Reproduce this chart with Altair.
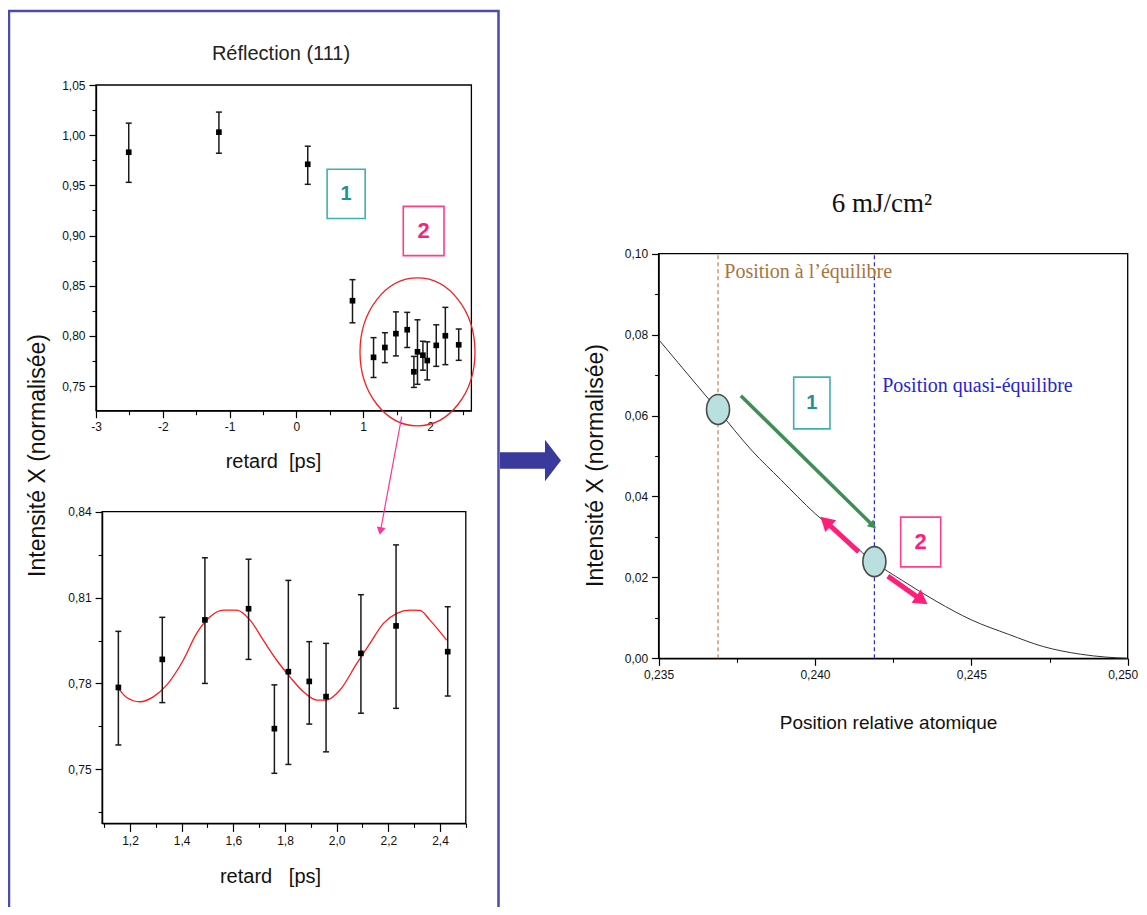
import math
import altair as alt
import pandas as pd

# ---------------- values ----------------
# top-left panel : early delays
early_delay = [-2.51, -1.16, 0.17, 0.84]
early_int = [0.983, 1.003, 0.971, 0.835]
early_lo = [0.953, 0.982, 0.951, 0.813]
early_hi = [1.012, 1.023, 0.989, 0.856]

# oscillation region (both left panels)
osc_delay = [1.155, 1.325, 1.490, 1.659, 1.759, 1.813, 1.894, 1.959, 2.094, 2.230, 2.430]
osc_int = [0.7786, 0.7884, 0.8022, 0.8061, 0.7642, 0.7841, 0.7807, 0.7754, 0.7905, 0.8001, 0.7911]
osc_lo = [0.7585, 0.7733, 0.7800, 0.7884, 0.7486, 0.7517, 0.7658, 0.7561, 0.7696, 0.7713, 0.7756]
osc_hi = [0.7982, 0.8031, 0.8239, 0.8234, 0.7795, 0.8160, 0.7946, 0.7940, 0.8110, 0.8284, 0.8068]

# red fitted curve (points read along it)
fit_delay = [1.158, 1.187, 1.239, 1.290, 1.342, 1.406, 1.458, 1.510, 1.561, 1.613, 1.665, 1.716, 1.768,
             1.819, 1.871, 1.923, 1.961, 2.013, 2.078, 2.129, 2.181, 2.233, 2.284, 2.323, 2.361, 2.426]
fit_int = [0.7779, 0.7751, 0.7736, 0.7753, 0.7794, 0.7881, 0.7975, 0.8033, 0.8056, 0.8056, 0.8021, 0.7951, 0.7881,
           0.7823, 0.7771, 0.7742, 0.7742, 0.7777, 0.7870, 0.7940, 0.8010, 0.8045, 0.8056, 0.8055, 0.8021, 0.7951]

# right panel : intensity vs atomic relative position
atom_pos = [0.2350, 0.2359, 0.23688, 0.2380, 0.2389, 0.2400, 0.24117, 0.24187, 0.2428, 0.2439, 0.2450,
            0.2462, 0.2473, 0.2485, 0.2493, 0.2500]
atom_int = [0.0788, 0.0705, 0.0615, 0.0512, 0.0442, 0.0358, 0.0284, 0.0239, 0.0192, 0.0140, 0.0095,
            0.0059, 0.0029, 0.0010, 0.0003, 0.0000]
eq_pos = 0.2369
quasi_pos = 0.2419
state_pos = [0.2369, 0.2419]
state_int = [0.0615, 0.0239]

# arrows (tail -> tip) in data units of the right panel
arrow_name = ["green", "pink_up", "pink_down"]
arrow_x0 = [0.23763, 0.24140, 0.24233]
arrow_y0 = [0.0649, 0.0263, 0.0203]
arrow_x1 = [0.24192, 0.24023, 0.24354]
arrow_y1 = [0.0323, 0.0346, 0.0137]

# numbered boxes
boxA_label = ["1", "2"]
boxA_x0 = [0.46, 1.60]
boxA_x1 = [1.03, 2.21]
boxA_y0 = [0.917, 0.880]
boxA_y1 = [0.966, 0.929]
boxC_label = ["1", "2"]
boxC_x0 = [0.23932, 0.24274]
boxC_x1 = [0.24048, 0.24402]
boxC_y0 = [0.0567, 0.0226]
boxC_y1 = [0.0695, 0.0349]

zoom_center = [1.813, 0.784]

# axes
A_xdom, A_ydom = [-3, 2.62], [0.7254, 1.05]
A_xticks, A_xminor = [-3, -2, -1, 0, 1, 2], [-2.5, -1.5, -0.5, 0.5, 1.5, 2.5]
A_yticks = [0.75, 0.80, 0.85, 0.90, 0.95, 1.00, 1.05]
A_yminor = [0.775, 0.825, 0.875, 0.925, 0.975, 1.025]
B_xdom, B_ydom = [1.092, 2.5], [0.7311, 0.84]
B_xticks = [1.2, 1.4, 1.6, 1.8, 2.0, 2.2, 2.4]
B_xminor = [1.1, 1.3, 1.5, 1.7, 1.9, 2.1, 2.3, 2.5]
B_yticks = [0.75, 0.78, 0.81, 0.84]
B_yminor = [0.735, 0.765, 0.795, 0.825]
C_xdom, C_ydom = [0.235, 0.250], [0.0, 0.10]
C_xticks = [0.235, 0.240, 0.245, 0.250]
C_xminor = [0.2375, 0.2425, 0.2475]
C_yticks = [0.00, 0.02, 0.04, 0.06, 0.08, 0.10]
C_yminor = [0.01, 0.03, 0.05, 0.07, 0.09]

# ---------------- layout (canvas pixels) ----------------
W, H = 1131, 899
FONT = "Liberation Sans"
SERIF = "Liberation Serif"
A_xr, A_yr = [88, 463.4], [402.7, 77]
B_xr, B_yr = [94.1, 457.8], [815.4, 503.7]
C_xr, C_yr = [650.6, 1119.7], [650.3, 245.7]


def scale(dom, rng):
    return alt.Scale(domain=dom, range=rng, zero=False, nice=False)


A_xs, A_ys = scale(A_xdom, A_xr), scale(A_ydom, A_yr)
B_xs, B_ys = scale(B_xdom, B_xr), scale(B_ydom, B_yr)
C_xs, C_ys = scale(C_xdom, C_xr), scale(C_ydom, C_yr)


def major_axis(orient, offset, values, fmt, tick=7, **kw):
    return alt.Axis(orient=orient, offset=offset, values=values, format=fmt,
                    labelExpr="replace(replace(datum.label, '.', ','), '\u2212', '-')",
                    labelFont=FONT, labelFontSize=12,
                    labelColor="#111", labelPadding=4, labelFlush=False, labelOverlap=False,
                    tickSize=tick, tickColor="black", tickWidth=1.2, domainColor="black",
                    domainWidth=1.3, grid=False, titleFont=FONT, titleFontWeight="normal",
                    titleColor="#111", titleAlign="center", titleBaseline="middle", **kw)


def minor_axis(orient, offset, values):
    return alt.Axis(orient=orient, offset=offset, values=values, labels=False, domain=False,
                    tickSize=4, tickColor="black", tickWidth=1.1, grid=False, title="")


def frame(xd, yd, xs, ys, xaxis, yaxis):
    df = pd.DataFrame({"x0": [xd[0]], "x1": [xd[1]], "y0": [yd[0]], "y1": [yd[1]]})
    return alt.Chart(df).mark_rect(fill="white", fillOpacity=0, stroke="black", strokeWidth=1.3).encode(
        x=alt.X("x0:Q", scale=xs, axis=xaxis), x2="x1:Q",
        y=alt.Y("y0:Q", scale=ys, axis=yaxis), y2="y1:Q")


def error_layers(df, xs, ys, xminor, yminor):
    rules = alt.Chart(df).mark_rule(color="#1a1a1a", strokeWidth=1.5).encode(
        x=alt.X("t:Q", scale=xs, axis=xminor), y=alt.Y("lo:Q", scale=ys, axis=yminor), y2="hi:Q")
    caps = alt.Chart(df).transform_fold(["lo", "hi"], as_=["end", "v"]).mark_tick(
        orient="horizontal", size=6, thickness=1.5, color="#1a1a1a", opacity=1).encode(
        x=alt.X("t:Q", scale=xs, axis=None), y=alt.Y("v:Q", scale=ys, axis=None))
    pts = alt.Chart(df).mark_square(size=32, color="black", opacity=1).encode(
        x=alt.X("t:Q", scale=xs, axis=None), y=alt.Y("i:Q", scale=ys, axis=None))
    return [rules, caps, pts]


def boxes(labels, x0, x1, y0, y1, xs, ys, strokes, texts, sizes):
    out = []
    for k in range(len(labels)):
        d = pd.DataFrame({"x0": [x0[k]], "x1": [x1[k]], "y0": [y0[k]], "y1": [y1[k]],
                          "xc": [(x0[k] + x1[k]) / 2], "yc": [(y0[k] + y1[k]) / 2], "lab": [labels[k]]})
        out.append(alt.Chart(d).mark_rect(fill="white", stroke=strokes[k], strokeWidth=1.6).encode(
            x=alt.X("x0:Q", scale=xs, axis=None), x2="x1:Q",
            y=alt.Y("y0:Q", scale=ys, axis=None), y2="y1:Q"))
        out.append(alt.Chart(d).mark_text(font=FONT, fontWeight="bold", fontSize=sizes[k], color=texts[k],
                                          baseline="middle", align="center").encode(
            x=alt.X("xc:Q", scale=xs, axis=None), y=alt.Y("yc:Q", scale=ys, axis=None), text="lab:N"))
    return out


def ellipse(a):
    return f"M {-a} 0 A {a} 1 0 1 1 {a} 0 A {a} 1 0 1 1 {-a} 0 Z"


layers = []

# ---------------- panel A : Réflection (111) ----------------
dfA = pd.DataFrame({"t": early_delay + osc_delay, "i": early_int + osc_int,
                    "lo": early_lo + osc_lo, "hi": early_hi + osc_hi})
layers.append(frame(A_xdom, A_ydom, A_xs, A_ys,
                    major_axis("bottom", A_yr[0] - H, A_xticks, ".0f", tick=7,
                               title="retard\u00a0\u00a0[ps]", titleFontSize=20, titleX=265, titleY=51),
                    major_axis("left", -A_xr[0], A_yticks, ".2f", tick=7,
                               title="Intensité X (normalisée)", titleFontSize=23, titleX=-59, titleY=447)))
layers += error_layers(dfA, A_xs, A_ys, minor_axis("bottom", A_yr[0] - H, A_xminor),
                       minor_axis("left", -A_xr[0], A_yminor))
layers.append(alt.Chart(pd.DataFrame({"t": [zoom_center[0]], "i": [zoom_center[1]]})).mark_point(
    shape=ellipse(0.777), size=21904, filled=False, color="#ee2222", strokeWidth=1.3, opacity=1).encode(
    x=alt.X("t:Q", scale=A_xs, axis=None), y=alt.Y("i:Q", scale=A_ys, axis=None)))
layers += boxes(boxA_label, boxA_x0, boxA_x1, boxA_y0, boxA_y1, A_xs, A_ys,
                ["#3fb0b0", "#ff3d8a"], ["#1f9393", "#ff1f7a"], [20, 22])

# ---------------- panel B : zoom on the oscillation ----------------
dfB = pd.DataFrame({"t": osc_delay, "i": osc_int, "lo": osc_lo, "hi": osc_hi})
layers.append(frame(B_xdom, B_ydom, B_xs, B_ys,
                    major_axis("bottom", B_yr[0] - H, B_xticks, ".1f", tick=8,
                               title="retard\u00a0\u00a0\u00a0[ps]", titleFontSize=20, titleX=262, titleY=53),
                    major_axis("left", -B_xr[0], B_yticks, ".2f", tick=7, title="")))
layers.append(alt.Chart(pd.DataFrame({"t": fit_delay, "i": fit_int})).mark_line(
    color="#ff1a1a", strokeWidth=1.3, interpolate="monotone").encode(
    x=alt.X("t:Q", scale=B_xs, axis=None), y=alt.Y("i:Q", scale=B_ys, axis=None)))
layers += error_layers(dfB, B_xs, B_ys, minor_axis("bottom", B_yr[0] - H, B_xminor),
                       minor_axis("left", -B_xr[0], B_yminor))

# ---------------- panel C : 6 mJ/cm² ----------------
last_shift = {"condition": {"test": "datum.value >= 0.2499", "value": -5}, "value": 0}
layers.append(frame(C_xdom, C_ydom, C_xs, C_ys,
                    major_axis("bottom", C_yr[0] - H, C_xticks, ".3f", tick=7,
                               title="Position relative atomique", titleFontSize=19, titleX=880, titleY=64,
                               labelOffset=last_shift),
                    major_axis("left", -C_xr[0], C_yticks, ".2f", tick=7,
                               title="Intensité X (normalisée)", titleFontSize=23, titleX=-63.6, titleY=457)))
layers.append(alt.Chart(pd.DataFrame({"p": atom_pos, "v": atom_int})).mark_line(
    color="#333333", strokeWidth=1.0, interpolate="monotone").encode(
    x=alt.X("p:Q", scale=C_xs, axis=minor_axis("bottom", C_yr[0] - H, C_xminor)),
    y=alt.Y("v:Q", scale=C_ys, axis=minor_axis("left", -C_xr[0], C_yminor))))
for xpos, col in [(eq_pos, "#c0804a"), (quasi_pos, "#2b2bd8")]:
    layers.append(alt.Chart(pd.DataFrame({"p": [xpos], "v0": [C_ydom[0]], "v1": [C_ydom[1]]})).mark_rule(
        color=col, strokeWidth=1.2, strokeDash=[4, 3]).encode(
        x=alt.X("p:Q", scale=C_xs, axis=None), y=alt.Y("v0:Q", scale=C_ys, axis=None), y2="v1:Q"))

# arrows: shaft + head
px_per_x = (C_xr[1] - C_xr[0]) / (C_xdom[1] - C_xdom[0])
px_per_y = (C_yr[0] - C_yr[1]) / (C_ydom[1] - C_ydom[0])
arrow_style = {"green": ("#3d8f55", 3.5, 90), "pink_up": ("#ff1f78", 5, 260), "pink_down": ("#ff1f78", 5, 260)}
for k, name in enumerate(arrow_name):
    col, sw, hs = arrow_style[name]
    dx = (arrow_x1[k] - arrow_x0[k]) * px_per_x
    dy = -(arrow_y1[k] - arrow_y0[k]) * px_per_y
    ln = math.hypot(dx, dy)
    ang = math.degrees(math.atan2(dx, -dy)) % 360
    back = 0.433 * math.sqrt(hs)
    hx = arrow_x1[k] - back * dx / ln / px_per_x
    hy = arrow_y1[k] + back * dy / ln / px_per_y
    d = pd.DataFrame({"x0": [arrow_x0[k]], "y0": [arrow_y0[k]], "hx": [hx], "hy": [hy], "ang": [ang]})
    layers.append(alt.Chart(d).mark_rule(color=col, strokeWidth=sw).encode(
        x=alt.X("x0:Q", scale=C_xs, axis=None), y=alt.Y("y0:Q", scale=C_ys, axis=None),
        x2="hx:Q", y2="hy:Q"))
    layers.append(alt.Chart(d).mark_point(shape="triangle", size=hs, filled=True, color=col, opacity=1).encode(
        x=alt.X("hx:Q", scale=C_xs, axis=None), y=alt.Y("hy:Q", scale=C_ys, axis=None),
        angle=alt.Angle("ang:Q", scale=None)))

layers.append(alt.Chart(pd.DataFrame({"p": state_pos, "v": state_int})).mark_point(
    shape=ellipse(0.767), size=900, filled=True, fill="#b9dfdf", stroke="#4a4a4a", strokeWidth=1.6,
    opacity=1).encode(x=alt.X("p:Q", scale=C_xs, axis=None), y=alt.Y("v:Q", scale=C_ys, axis=None)))
layers += boxes(boxC_label, boxC_x0, boxC_x1, boxC_y0, boxC_y1, C_xs, C_ys,
                ["#3fb0b0", "#ff3d8a"], ["#1f9393", "#ff1f7a"], [20, 22])
ann = pd.DataFrame({"p": [0.2371, 0.24215], "v": [0.0940, 0.0659],
                    "txt": ["Position à l’équilibre", "Position quasi-équilibre"],
                    "c": ["#a8743f", "#2525d5"]})
for k in range(2):
    layers.append(alt.Chart(ann.iloc[[k]]).mark_text(font=SERIF, fontSize=20, align="left",
                                                     baseline="alphabetic", color=ann["c"][k]).encode(
        x=alt.X("p:Q", scale=C_xs, axis=None), y=alt.Y("v:Q", scale=C_ys, axis=None), text="txt:N"))

# ---------------- decorations (page furniture) ----------------
one = pd.DataFrame({"k": [0]})
layers.append(alt.Chart(one).mark_rect(fill="white", fillOpacity=0, stroke="#4b4bab", strokeWidth=2.5).encode(
    x=alt.value(1), x2=alt.value(490.5), y=alt.value(3), y2=alt.value(910)))
big_arrow = "M -1 -0.267 L 0.475 -0.267 L 0.475 -0.684 L 1 0 L 0.475 0.684 L 0.475 0.267 L -1 0.267 Z"
layers.append(alt.Chart(one).mark_point(shape=big_arrow, size=3721, filled=True, color="#3a3a9c",
                                        opacity=1).encode(x=alt.value(522.5), y=alt.value(452.5)))
layers.append(alt.Chart(one).mark_rule(color="#ff3399", strokeWidth=1.2).encode(
    x=alt.value(393.7), y=alt.value(408.7), x2=alt.value(372.7), y2=alt.value(521.8)))
layers.append(alt.Chart(one).mark_point(shape="triangle", size=80, filled=True, color="#ff3399", opacity=1,
                                        angle=190.7).encode(x=alt.value(372.7), y=alt.value(521.8)))
layers.append(alt.Chart(one).mark_text(font="Liberation Sans Narrow, Liberation Sans", fontSize=20,
                                       color="#222", baseline="middle", align="center").encode(
    x=alt.value(273), y=alt.value(46), text=alt.value("Réflection (111)")))
layers.append(alt.Chart(one).mark_text(font=SERIF, fontSize=27, color="#111", baseline="middle",
                                       align="center").encode(
    x=alt.value(874), y=alt.value(196), text=alt.value("6 mJ/cm²")))

chart = alt.layer(*layers).resolve_scale(x="independent", y="independent").resolve_axis(
    x="independent", y="independent").properties(
    width=W, height=H, padding=0, autosize=alt.AutoSizeParams(type="none"),
    background="white").configure_view(strokeWidth=0)

chart.save("out.html", embed_options={"renderer": "svg", "actions": False})
